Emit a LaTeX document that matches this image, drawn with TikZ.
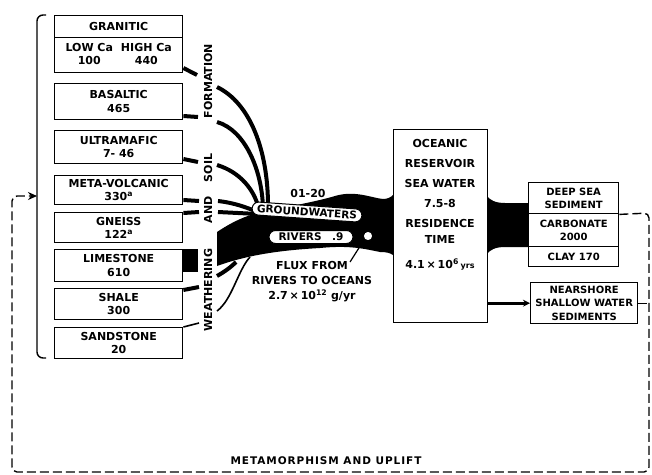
\documentclass[tikz,border=0pt]{standalone}
\usepackage{fontspec}
\setmainfont{DejaVu Sans}
\newfontfamily\spacedfont[LetterSpace=9]{DejaVu Sans}
\usetikzlibrary{arrows.meta,positioning,shapes.misc,calc}
\newcommand\boxfont{\fontsize{11}{13.5}\selectfont\bfseries}

\begin{document}
\begin{tikzpicture}[x=1pt, y=-1pt,
  rock/.style={draw=black, line width=1.4pt, anchor=north west, minimum width=128pt, inner sep=0pt, align=center, font=\boxfont},
  sink/.style={draw=black, line width=1.4pt, anchor=north west, inner sep=0pt, align=center, font=\fontsize{10}{13.5}\selectfont\bfseries},
  lbl/.style={inner sep=0pt, align=center, font=\fontsize{11}{15}\selectfont\bfseries},
  side/.style={inner sep=0pt, rotate=90, font=\fontsize{11}{13}\selectfont\bfseries},
  oval/.style={rounded rectangle, draw=black, fill=white, line width=1pt, inner sep=1pt, minimum height=13pt, font=\fontsize{10.5}{13}\selectfont\bfseries},
  flow/.style={line width=4pt, black},
  thinflow/.style={line width=1.6pt, black},
  cycleline/.style={line width=1.4pt, dash pattern=on 9pt off 4pt, rounded corners=5pt},
]
\useasboundingbox (0,0) rectangle (652,474);

% rock types
\node[rock, minimum height=22pt] (gran)   at (54,15)  {GRANITIC};
\node[rock, minimum height=35pt] (gran2)  at (54,37)  {\begin{tabular}{@{}c@{\hspace{8pt}}c@{}}LOW Ca & HIGH Ca\\ 100 & 440\end{tabular}};
\node[rock, minimum height=36pt] (basalt) at (54,83)  {BASALTIC\\465};
\node[rock, minimum height=33pt] (ultra)  at (54,130) {ULTRAMAFIC\\7- 46};
\node[rock, minimum height=29pt] (meta)   at (54,175) {META-VOLCANIC\\330\textsuperscript{a}};
\node[rock, minimum height=30pt] (gneiss) at (54,212) {GNEISS\\122\textsuperscript{a}};
\node[rock, minimum height=32pt] (lime)   at (54,249) {LIMESTONE\\610};
\node[rock, minimum height=31pt] (shale)  at (54,288) {SHALE\\300};
\node[rock, minimum height=31pt] (sand)   at (54,327) {SANDSTONE\\20};
\draw[line width=1.4pt, rounded corners=6pt] (46,15) -- (37,15) -- (37,358) -- (46,358);
\coordinate (brk) at (37,196);

% weathering column
\node[side] (wea) at (208,290) {WEATHERING};
\node[side] (and) at (208,210) {AND};
\node[side] (soil) at (208,168) {SOIL};
\node[side] (form) at (208,81) {FORMATION};

% ocean and sediments
\node[sink, minimum width=94pt, minimum height=193pt] (ocean) at (393,129) {};
\node[lbl, font=\fontsize{11}{20}\selectfont\bfseries] (oceantxt) at (440,205)
  {OCEANIC\\RESERVOIR\\SEA WATER\\7.5-8\\RESIDENCE\\[-4pt]TIME\\[5pt]4.1\,×\,10\textsuperscript{6}\,{\footnotesize yrs}};
\node[sink, minimum width=90pt, minimum height=31pt] (dsed)  at (528,182) {DEEP SEA\\SEDIMENT};
\node[sink, minimum width=90pt, minimum height=33pt] (carb)  at (528,213) {CARBONATE\\2000};
\node[sink, minimum width=90pt, minimum height=20pt] (clay)  at (528,246) {CLAY 170};
\node[sink, minimum width=107pt, minimum height=41pt] (nshore) at (530,282) {NEARSHORE\\SHALLOW WATER\\SEDIMENTS};

% stubs from the rocks
\draw[flow] (gran2.east |- 0,68) -- (197,75);
\draw[flow] (basalt.east |- 0,116) -- (198,117);
\draw[flow] (ultra.east |- 0,159) -- (198,162);
\draw[flow] (meta.east |- 0,200) -- (199,201);
\draw[flow] (gneiss.east |- 0,213) -- (199,212);
\fill (lime.north east) rectangle (198,272);
\draw[flow] (shale.east |- 0,290) -- (199,287);
\draw[thinflow] (sand.east |- 0,327) -- (199,323);

% after the column
\draw[flow] (217,87) .. controls (250,103) and (268,150) .. (268,206);
\draw[flow] (217,122) .. controls (245,130) and (262,170) .. (263,208);
\draw[flow] (217,165) .. controls (240,172) and (255,190) .. (259,210);
\draw[flow] (218,201) .. controls (235,203) and (245,207) .. (258,212);
\draw[flow] (218,212) -- (258,214);
\draw[flow] (217,276) .. controls (224,272) and (230,268) .. (236,262);
\draw[thinflow] (217,311) .. controls (232,300) and (238,270) .. (250,257);

% flux to the ocean
\fill (217,232) .. controls (232,222) and (245,216) .. (258,213)
  .. controls (285,207) and (315,202) .. (335,196)
  .. controls (355,190) and (372,198) .. (383,199)
  .. controls (388,199) and (391,197) .. (393,195)
  -- (393,255)
  .. controls (390,253) and (387,252) .. (380,252)
  .. controls (365,249) and (350,245) .. (320,248)
  .. controls (285,250) and (250,254) .. (217,266) -- cycle;
\node[oval, minimum width=112pt, rotate=-4] (gw) at (307,212) {GROUNDWATERS};
\node[oval, minimum width=86pt] (riv) at (311,237) {RIVERS\quad.9};
\node[lbl] (gwval) at (308,193) {01-20};
\node[circle, draw=black, fill=white, line width=1.5pt, minimum size=10pt, inner sep=0pt] (hole) at (368,236) {};
\node[lbl] (flux) at (312,282) {FLUX FROM\\RIVERS TO OCEANS\\2.7\,×\,10\textsuperscript{12} g/yr};
\coordinate (fluxtip) at (350,262);
\draw[line width=1.2pt] (hole.south west) -- (fluxtip);

% ocean to sediments
\fill (487,196) .. controls (490,200) and (495,203) .. (505,203) -- (dsed.west |- 0,203)
  -- (carb.west |- 0,247) -- (505,247) .. controls (495,247) and (490,250) .. (487,254) -- cycle;
\draw[line width=2.6pt, -{Stealth[length=7pt, width=7pt]}] (ocean.east |- nshore.west) -- (nshore.west);

% metamorphism and uplift
\coordinate (ne) at (649,213);
\coordinate (se) at (649,472);
\coordinate (sw) at (12,472);
\coordinate (nw) at (12,196);
\draw[cycleline, -{Stealth[length=9pt, width=8pt]}] (dsed.south east) -- (ne) -- (se) -- (sw) -- (nw) -- (brk);
\draw[cycleline] (nshore.east) -- (ne |- nshore.east);
\node[lbl, font=\fontsize{10.5}{13}\spacedfont\bfseries] (meta-up) at (326,461) {METAMORPHISM AND UPLIFT};
\end{tikzpicture}
\end{document}
